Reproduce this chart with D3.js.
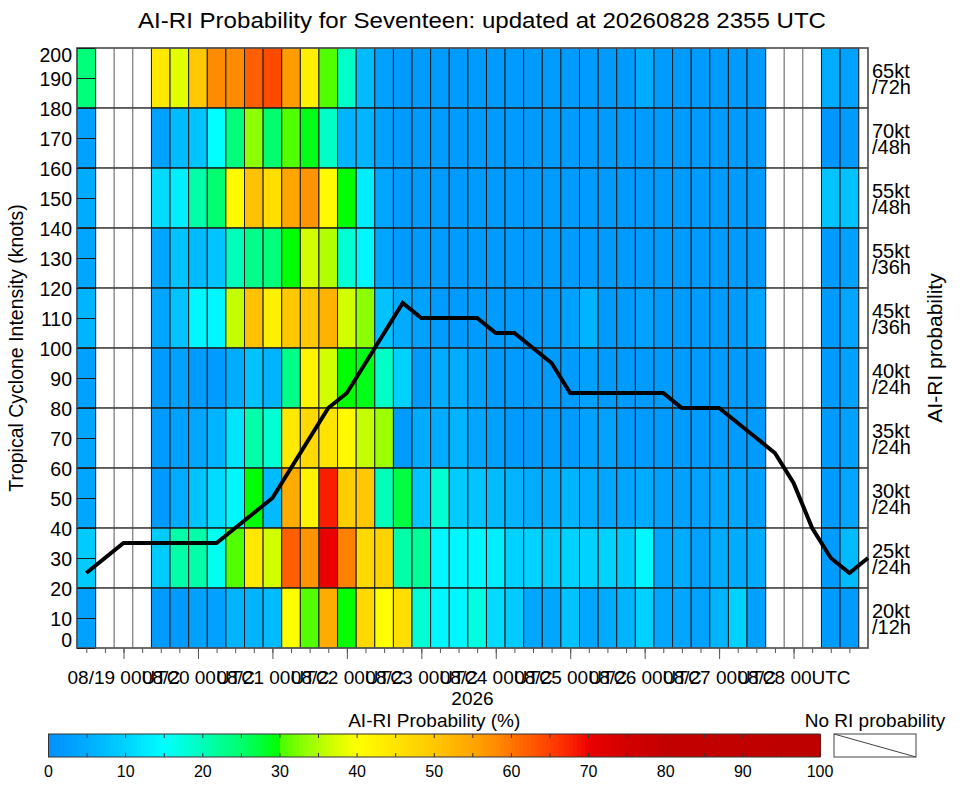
<!DOCTYPE html>
<html>
<head>
<meta charset="utf-8">
<script src="https://cdn.jsdelivr.net/npm/d3@7"></script>
<style>
body { margin: 0; background: white; }
text { font-family: "Liberation Sans", Arial, Helvetica, sans-serif; }
</style>
</head>
<body>
<script>
const N = null;

// RI thresholds, top row first (each row covers 20 kt of the y axis)
const thresholds = [["65kt", "/72h"], ["70kt", "/48h"], ["55kt", "/48h"], ["55kt", "/36h"], ["45kt", "/36h"],
                    ["40kt", "/24h"], ["35kt", "/24h"], ["30kt", "/24h"], ["25kt", "/24h"], ["20kt", "/12h"]];

// AI-RI probability (%) per 6-hourly forecast time, 08/18 12UTC .. 08/29 00UTC (null = no RI probability)
const p65_72 = [24, N, N, N, 44, 38, 50, 58, 58, 62, 64, 56, 43, 30.5, 19, 7, 3, 2, 2, 2, 2, 2, 2, 2, 2, 2, 2, 2, 2, 2, 5, 2, 2, 2, 2, 2, 2, N, N, N, 5, 3, N];
const p70_48 = [3, N, N, N, 3, 7, 8, 15, 24, 33, 25, 30.5, 29, 19, 6, 6, 3, 2, 2, 2, 2, 2, 2, 2, 2, 2, 2, 2, 2, 2, 2, 2, 2, 2, 2, 2, 2, N, N, N, 1, 2, N];
const p55_48 = [5, N, N, N, 11, 13, 21, 25, 41, 51, 46, 55, 57, 41, 29.9, 13, 4, 2, 2, 2, 2, 2, 2, 2, 2, 2, 2, 2, 2, 2, 2, 2, 2, 2, 2, 2, 2, N, N, N, 8, 8, N];
const p55_36 = [4, N, N, N, 4, 8, 7, 8, 20, 23, 24, 29.9, 37, 35, 18, 14, 4, 2, 2, 2, 2, 2, 2, 2, 2, 2, 2, 2, 2, 2, 2, 2, 2, 2, 2, 2, 2, N, N, N, 2, 3, N];
const p45_36 = [6, N, N, N, 4, 8, 14, 14, 36, 51, 43, 50, 50, 53, 37, 33, 8, 5, 3, 2, 2, 2, 2, 2, 2, 2, 3, 6, 2, 2, 3, 2, 2, 2, 2, 2, 4, N, N, N, 2, 4, N];
const p40_24 = [3, N, N, N, 2, 3, 2, 2, 5, 8, 6, 23, 42, 37, 29.9, 29, 19, 10, 2, 5, 5, 3, 2, 2, 2, 2, 2, 3, 2, 2, 2, 2, 2, 2, 2, 2, 2, N, N, N, 2, 3, N];
const p35_24 = [4, N, N, N, 2, 3, 4, 6, 12, 21, 18, 44, 47, 45, 41, 36, 34, 2, 5, 5, 6, 4, 3, 2, 2, 2, 2, 3, 3, 2, 2, 2, 2, 2, 2, 2, 2, N, N, N, 2, 3, N];
const p30_24 = [4, N, N, N, 2, 5, 8, 11, 14, 29.9, 7, 54, 42, 68, 49, 50, 20, 27, 8, 18, 9, 8, 7, 6, 5, 5, 6, 5, 4, 4, 5, 3, 3, 3, 4, 4, 3, N, N, N, 2, 4, N];
const p25_24 = [9, N, N, N, 9, 21, 21, 16, 30.5, 44, 37, 62, 57, 70, 59, 47, 48, 21, 22, 14, 14, 14, 13, 10, 10, 9, 10, 10, 10, 9, 14, 4, 5, 3, 5, 5, 5, N, N, N, 2, 7, N];
const p20_12 = [3, N, N, N, 2, 2, 3, 3, 6, 6, 7, 40, 30.5, 54, 29.9, 47, 40, 46, 18, 14, 14, 17, 11, 9, 4, 4, 8, 4, 5, 6, 10, 4, 4, 3, 6, 10, 3, N, N, N, 2, 2, N];
const probRows = [p65_72, p70_48, p55_48, p55_36, p45_36, p40_24, p35_24, p30_24, p25_24, p20_12];

// forecast intensity (kt), same times
const intensity = [25, 30, 35, 35, 35, 35, 35, 35, 40, 45, 50, 60, 70, 80, 85, 95, 105, 115, 110, 110, 110, 110, 105, 105,
                   100, 95, 85, 85, 85, 85, 85, 85, 80, 80, 80, 75, 70, 65, 55, 40, 30, 25, 30];

const yTicks = [0, 10, 20, 30, 40, 50, 60, 70, 80, 90, 100, 110, 120, 130, 140, 150, 160, 170, 180, 190, 200];
const cbarTicks = [0, 10, 20, 30, 40, 50, 60, 70, 80, 90, 100];

// colour table of the probability bar
const cStops  = [0, 2, 5, 8, 10, 13, 15, 18, 20, 22, 25, 29.99, 30, 33, 36, 38, 40, 45, 50, 55, 58, 62, 65, 68, 70, 75, 80, 100];
const cColors = ["#0091ff", "#009bff", "#00acff", "#00c3ff", "#00d2ff", "#00eeff", "#00ffff", "#00ffd2", "#00ffb9", "#00ff96",
                 "#00ff6e", "#00ff00", "#46ff00", "#8cff00", "#c3ff00", "#e1ff00", "#ffff00", "#ffe400", "#ffc800", "#ffa500",
                 "#ff8c00", "#ff5f00", "#ff4100", "#fa1e00", "#eb0000", "#d20000", "#c30000", "#be0000"];

function main(){
    const width = 963;
    const height = 785;
    const plot = {left: 77, right: 868, top: 48, bottom: 648};

    const svg = d3.select("body")
        .append("svg")
        .attr("width", width)
        .attr("height", height)
        .attr("style", "background-color: white");

    const color = d3.scaleLinear().domain(cStops).range(cColors).clamp(true);

    const times = d3.utcHour.every(6).range(new Date(Date.UTC(2026, 7, 18, 12)), new Date(Date.UTC(2026, 7, 29, 1)));

    const x = d3.scaleUtc()
        .domain([new Date(Date.UTC(2026, 7, 18, 9)), new Date(Date.UTC(2026, 7, 29, 0))])
        .range([plot.left, plot.right])
        .clamp(true);
    const y = d3.scaleLinear()
        .domain([0, 200])
        .range([plot.bottom, plot.top]);

    // cells
    let cells = [];
    probRows.forEach(function (vals, i){
        const lo = 180 - 20 * i;
        vals.forEach(function (v, k){
            cells.push({lo: lo, hi: lo + 20, t: times[k], v: v});
        });
    });
    const cellX0 = d => x(d3.utcHour.offset(d.t, -3));
    const cellX1 = d => x(d3.utcHour.offset(d.t, 3));

    svg.append("g")
        .selectAll("rect")
        .data(cells.filter(d => d.v === null))
        .join("rect")
        .attr("x", cellX0)
        .attr("y", d => y(d.hi))
        .attr("width", d => cellX1(d) - cellX0(d))
        .attr("height", d => y(d.lo) - y(d.hi))
        .attr("fill", "white")
        .attr("stroke", "#777")
        .attr("stroke-width", 1);

    svg.append("g")
        .selectAll("rect")
        .data(cells.filter(d => d.v !== null))
        .join("rect")
        .attr("x", cellX0)
        .attr("y", d => y(d.hi))
        .attr("width", d => cellX1(d) - cellX0(d))
        .attr("height", d => y(d.lo) - y(d.hi))
        .attr("fill", d => color(d.v))
        .attr("stroke", "#1e1e1e")
        .attr("stroke-width", 1);

    // row boundaries
    svg.append("g")
        .selectAll("line")
        .data(thresholds.slice(1).map((d, i) => 180 - 20 * i))
        .join("line")
        .attr("x1", plot.left)
        .attr("x2", plot.right)
        .attr("y1", d => y(d))
        .attr("y2", d => y(d))
        .attr("stroke", "#1e1e1e");

    // frame
    svg.append("rect")
        .attr("x", plot.left)
        .attr("y", plot.top)
        .attr("width", plot.right - plot.left)
        .attr("height", plot.bottom - plot.top)
        .attr("fill", "none")
        .attr("stroke", "#555")
        .attr("stroke-width", 1.5);

    // y axis
    const yAxis = svg.append("g")
        .attr("transform", `translate(${plot.left},0)`)
        .call(d3.axisLeft(y).tickValues(yTicks).tickSize(-18).tickSizeOuter(0).tickPadding(5));
    yAxis.select(".domain").attr("stroke", "#555");
    yAxis.selectAll(".tick line").attr("stroke", "#1e1e1e");
    yAxis.selectAll("text")
        .attr("font-size", "19.5px")
        .attr("font-family", "Liberation Sans, Arial, sans-serif")
        .attr("fill", "black")
        .attr("y", d => d === 200 ? 7 : (d === 0 ? -8 : 1));

    // x axis: minor 6h ticks, major daily ticks
    const xMinor = svg.append("g")
        .attr("transform", `translate(0,${plot.bottom})`)
        .call(d3.axisBottom(x).tickValues(times.slice(0, -1)).tickSize(5).tickSizeOuter(0).tickFormat(""));
    xMinor.select(".domain").remove();
    xMinor.selectAll(".tick line").attr("stroke", "#555");

    const days = d3.utcDays(new Date(Date.UTC(2026, 7, 19)), new Date(Date.UTC(2026, 7, 29)));
    const xMajor = svg.append("g")
        .attr("transform", `translate(0,${plot.bottom})`)
        .call(d3.axisBottom(x).tickValues(days).tickSize(11).tickSizeOuter(0).tickPadding(12)
            .tickFormat(d3.utcFormat("%m/%d %HUTC")));
    xMajor.select(".domain").remove();
    xMajor.selectAll(".tick line").attr("stroke", "#555");
    xMajor.selectAll("text")
        .attr("font-size", "19px")
        .attr("font-family", "Liberation Sans, Arial, sans-serif")
        .attr("fill", "black");

    svg.append("text")
        .attr("x", (plot.left + plot.right) / 2)
        .attr("y", 705)
        .attr("text-anchor", "middle")
        .attr("font-size", "19px")
        .text("2026");

    // intensity line
    const line = d3.line()
        .x((d, i) => x(times[i]))
        .y(d => y(d));
    svg.append("path")
        .datum(intensity)
        .attr("d", line)
        .attr("fill", "none")
        .attr("stroke", "black")
        .attr("stroke-width", 4)
        .attr("stroke-linejoin", "miter");

    // right-hand row labels
    const rl = svg.append("g")
        .selectAll("text")
        .data(thresholds)
        .join("text")
        .attr("x", plot.right + 4)
        .attr("y", (d, i) => y(190 - 20 * i))
        .attr("font-size", "20px");
    rl.append("tspan").attr("x", plot.right + 4).attr("dy", 0).text(d => d[0]);
    rl.append("tspan").attr("x", plot.right + 4).attr("dy", 16).text(d => d[1]);

    // titles
    svg.append("text")
        .attr("x", 482)
        .attr("y", 28)
        .attr("text-anchor", "middle")
        .attr("font-size", "22px")
        .attr("textLength", 688)
        .attr("lengthAdjust", "spacingAndGlyphs")
        .text("AI-RI Probability for Seventeen: updated at 20260828 2355 UTC");

    svg.append("text")
        .attr("transform", `translate(23,${(plot.top + plot.bottom) / 2}) rotate(-90)`)
        .attr("text-anchor", "middle")
        .attr("font-size", "19.5px")
        .text("Tropical Cyclone Intensity (knots)");

    svg.append("text")
        .attr("transform", `translate(942,${(plot.top + plot.bottom) / 2}) rotate(-90)`)
        .attr("text-anchor", "middle")
        .attr("font-size", "21px")
        .text("AI-RI probability");

    // colour bar
    const cb = {x0: 48.5, x1: 820, y0: 734, y1: 757};
    const cx = d3.scaleLinear().domain([0, 100]).range([cb.x0, cb.x1]);
    svg.append("g")
        .attr("shape-rendering", "crispEdges")
        .selectAll("rect")
        .data(d3.range(0, 100, 0.5))
        .join("rect")
        .attr("x", d => cx(d))
        .attr("y", cb.y0)
        .attr("width", cx(0.5) - cx(0) + 0.6)
        .attr("height", cb.y1 - cb.y0)
        .attr("fill", d => color(d + 0.25));
    svg.append("rect")
        .attr("x", cb.x0)
        .attr("y", cb.y0)
        .attr("width", cb.x1 - cb.x0)
        .attr("height", cb.y1 - cb.y0)
        .attr("fill", "none")
        .attr("stroke", "#333");
    const minorCb = d3.range(0, 101, 5);
    svg.append("g")
        .selectAll("line")
        .data(minorCb)
        .join("line")
        .attr("x1", d => cx(d)).attr("x2", d => cx(d))
        .attr("y1", cb.y0).attr("y2", cb.y0 + 4)
        .attr("stroke", "#333");
    svg.append("g")
        .selectAll("line")
        .data(minorCb)
        .join("line")
        .attr("x1", d => cx(d)).attr("x2", d => cx(d))
        .attr("y1", cb.y1 - 4).attr("y2", cb.y1)
        .attr("stroke", "#333");
    svg.append("g")
        .selectAll("text")
        .data(cbarTicks)
        .join("text")
        .attr("x", d => cx(d))
        .attr("y", 777)
        .attr("text-anchor", "middle")
        .attr("font-size", "16px")
        .text(d => d);

    svg.append("text")
        .attr("x", (cb.x0 + cb.x1) / 2)
        .attr("y", 727)
        .attr("text-anchor", "middle")
        .attr("font-size", "19px")
        .text("AI-RI Probability (%)");

    // no-RI legend box
    svg.append("rect")
        .attr("x", 834).attr("y", cb.y0)
        .attr("width", 82).attr("height", cb.y1 - cb.y0)
        .attr("fill", "white")
        .attr("stroke", "#444");
    svg.append("line")
        .attr("x1", 834).attr("y1", cb.y0)
        .attr("x2", 916).attr("y2", cb.y1)
        .attr("stroke", "#444");
    svg.append("text")
        .attr("x", 875)
        .attr("y", 727)
        .attr("text-anchor", "middle")
        .attr("font-size", "19px")
        .text("No RI probability");
}

main()
</script>
</body>
</html>
